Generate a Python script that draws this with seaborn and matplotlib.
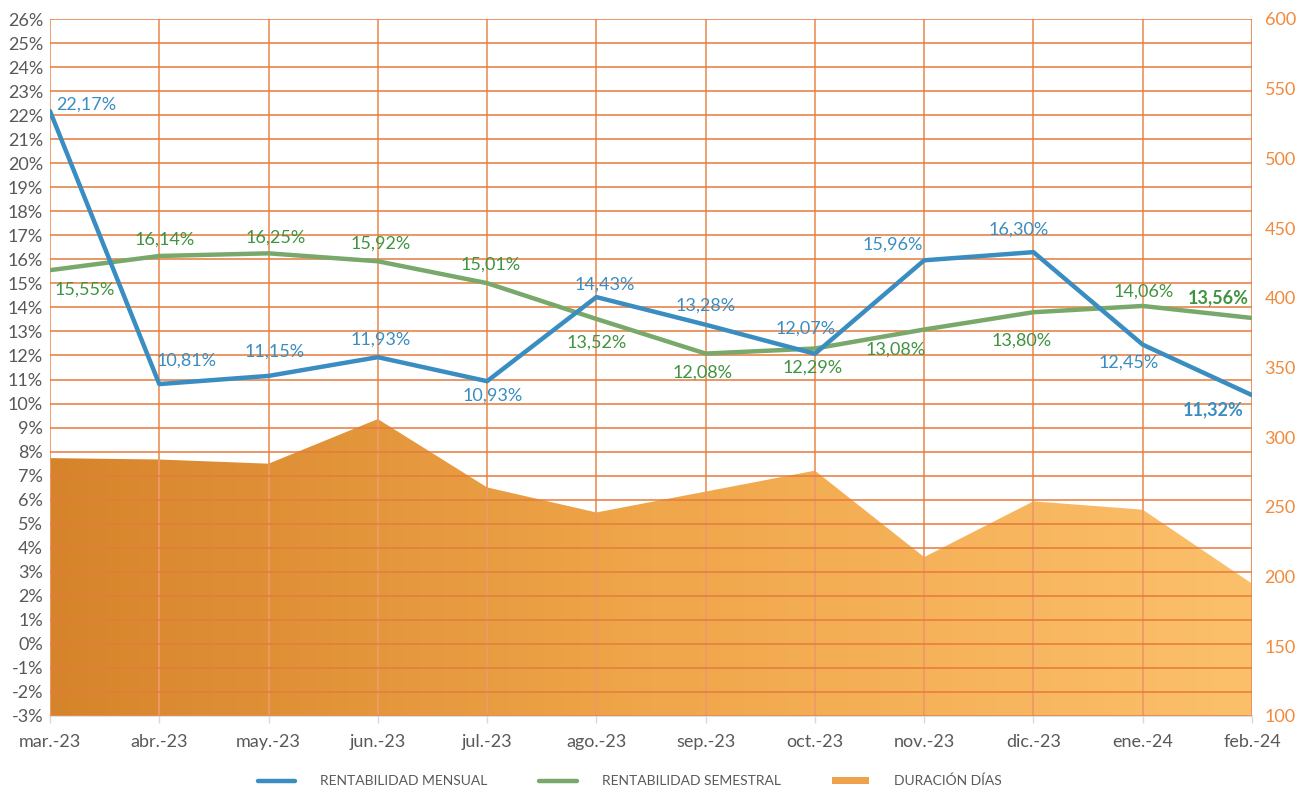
import numpy as np
import pandas as pd
import seaborn as sns
import matplotlib.pyplot as plt
from matplotlib.colors import LinearSegmentedColormap
from matplotlib.lines import Line2D
from matplotlib.patches import Patch

# Chart data
months = ['mar.-23', 'abr.-23', 'may.-23', 'jun.-23', 'jul.-23', 'ago.-23',
          'sep.-23', 'oct.-23', 'nov.-23', 'dic.-23', 'ene.-24', 'feb.-24']
rent_mensual = [22.17, 10.81, 11.15, 11.93, 10.93, 14.43, 13.28, 12.07, 15.96, 16.30, 12.45, 10.35]
mensual_labels = ['22,17%', '10,81%', '11,15%', '11,93%', '10,93%', '14,43%', '13,28%', '12,07%',
                  '15,96%', '16,30%', '12,45%', '11,32%']
rent_semestral = [15.55, 16.14, 16.25, 15.92, 15.01, 13.52, 12.08, 12.29, 13.08, 13.80, 14.06, 13.56]
semestral_labels = ['15,55%', '16,14%', '16,25%', '15,92%', '15,01%', '13,52%', '12,08%', '12,29%',
                    '13,08%', '13,80%', '14,06%', '13,56%']
duracion = [285, 284, 281, 313, 264, 246, 261, 276, 214, 254, 248, 195]

df = pd.DataFrame({'mes': months, 'mensual': rent_mensual, 'semestral': rent_semestral,
                   'duracion': duracion})
df['x'] = np.arange(len(df))

# label offsets in pixels (dx, dy)
off_m = [(36, 6), (27, 23), (6, 24), (3, 18), (6, -14), (8, 12), (0, 19), (-9, 25),
         (-31, 16), (-15, 23), (-14, -18), (-39, -15)]
off_s = [(35, -19), (5, 16), (7, 16), (3, 18), (3, 19), (0, -24), (-3, -19), (-2, -19),
         (-29, -20), (-12, -28), (1, 14), (-34, 20)]

sns.set_theme(style='white')
plt.rcParams['font.family'] = ['Lato', 'DejaVu Sans']

blue = '#3a8dc1'
green = '#78a96a'
green_txt = '#3f9440'
hgrid_c = '#e67b3c'
vgrid_c = '#ee9a66'
gray = '#595959'

fig = plt.figure(figsize=(13.04, 7.89), dpi=100)
ax = fig.add_axes([50 / 1304, 73 / 789, 1202 / 1304, 697 / 789])
ax2 = ax.twinx()

# area with horizontal gradient on right axis
ax2.set_ylim(100, 600)
ax2.set_xlim(0, 11)
poly = ax2.fill_between(df['x'], 100, df['duracion'], color='none', lw=0)
cmap = LinearSegmentedColormap.from_list('dur', ['#d6842b', '#f0a64a', '#fcc06b'])
img = ax2.imshow(np.linspace(0, 1, 256).reshape(1, -1), cmap=cmap, aspect='auto',
                 extent=[0, 11, 100, 600], origin='lower', zorder=1)
img.set_clip_path(poly.get_paths()[0], transform=ax2.transData)
ax2.set_yticks(range(100, 601, 50))
ax2.tick_params(axis='y', colors='#f08a3c', labelsize=13, length=0, pad=9)
for s in ax2.spines.values():
    s.set_visible(False)
ax2.grid(False)

# lines on left axis
ax.set_zorder(ax2.get_zorder() + 1)
ax.patch.set_visible(False)
sns.lineplot(data=df, x='x', y='mensual', ax=ax, color=blue, lw=3.2, zorder=5)
sns.lineplot(data=df, x='x', y='semestral', ax=ax, color=green, lw=3.2, zorder=4)
ax.set_xlim(0, 11)
ax.set_ylim(-3, 26)
ax.set_yticks(range(-3, 27))
ax.set_yticklabels([f'{v}%' for v in range(-3, 27)])
ax.set_xticks(df['x'])
ax.set_xticklabels(months)
ax.set_xlabel('')
ax.set_ylabel('')
ax.tick_params(axis='y', colors=gray, labelsize=13, length=0, pad=5)
ax.tick_params(axis='x', colors=gray, labelsize=13, length=5, width=1, pad=8,
               direction='out', bottom=True, color='#d9d9d9')
ax.grid(True, axis='y', color=hgrid_c, lw=1.1)
ax.grid(True, axis='x', color=vgrid_c, lw=1.3)
ax.set_axisbelow(False)
for g in ax.get_xgridlines() + ax.get_ygridlines():
    g.set_zorder(2)
for k in ['top', 'left', 'right']:
    ax.spines[k].set_visible(False)
ax.spines['bottom'].set_color('#d9d9d9')
ax.spines['bottom'].set_linewidth(1.2)
ax.axvline(11, color=hgrid_c, lw=1.5, zorder=2)

for i, row in df.iterrows():
    last = i == len(df) - 1
    ax.annotate(mensual_labels[i], (row['x'], row['mensual']), xytext=off_m[i],
                textcoords='offset pixels', ha='center', va='center', fontsize=13,
                color=blue, fontweight='bold' if last else 'normal', zorder=6)
    ax.annotate(semestral_labels[i], (row['x'], row['semestral']), xytext=off_s[i],
                textcoords='offset pixels', ha='center', va='center', fontsize=13,
                color=green_txt, fontweight='bold' if last else 'normal', zorder=6)

handles = [Line2D([0], [0], color=blue, lw=3.2),
           Line2D([0], [0], color=green, lw=3.2),
           Patch(facecolor='#eea24c', edgecolor='none')]
leg = fig.legend(handles, ['RENTABILIDAD MENSUAL', 'RENTABILIDAD SEMESTRAL', 'DURACIÓN DÍAS'],
                 loc='center', bbox_to_anchor=(630 / 1304, 1 - 781 / 789), ncol=3,
                 frameon=False, fontsize=10, handlelength=2.7, handleheight=0.45,
                 columnspacing=3.7, handletextpad=1.8, labelcolor=gray)

fig.savefig('out.png', dpi=100)
